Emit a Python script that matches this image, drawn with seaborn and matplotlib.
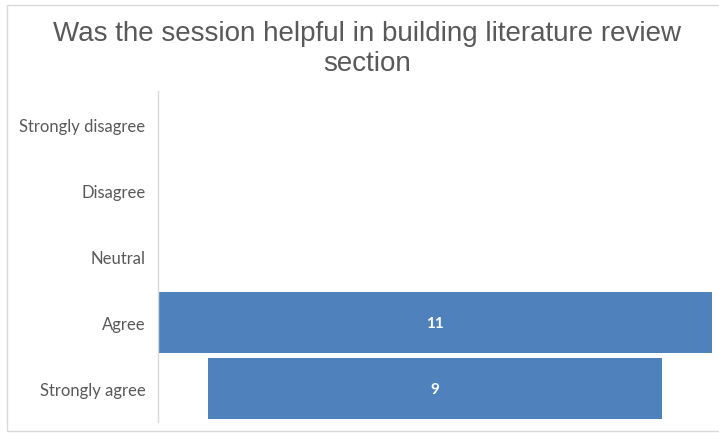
import numpy as np
import pandas as pd
import matplotlib
matplotlib.use("Agg")
import matplotlib.pyplot as plt
import seaborn as sns
from matplotlib.patches import Rectangle

# %% Data
categories = ['Strongly disagree', 'Disagree', 'Neutral', 'Agree', 'Strongly agree']
counts = [0, 0, 0, 11, 9]
title = 'Was the session helpful in building literature review\nsection'

df = pd.DataFrame({'Response': categories, 'Count': counts})
df['Half'] = df['Count'] / 2.0
df['NegHalf'] = -df['Half']

# %% Plot
sns.set_theme(style='white')
plt.rcParams['font.family'] = ['Liberation Sans', 'DejaVu Sans']

bar_color = '#4F81BD'
text_color = '#595959'

fig = plt.figure(figsize=(7.19, 4.35), dpi=100)
ax = fig.add_axes([158 / 719, 1 - 423 / 435, (712 - 158) / 719, (423 - 92) / 435])

# funnel style: each bar is centered on zero, drawn as two halves
sns.barplot(data=df, x='Half', y='Response', order=categories, color=bar_color,
            ax=ax, width=0.92, saturation=1, linewidth=0)
sns.barplot(data=df, x='NegHalf', y='Response', order=categories, color=bar_color,
            ax=ax, width=0.92, saturation=1, linewidth=0)

for i, v in enumerate(counts):
    if v > 0:
        ax.text(0, i, str(v), ha='center', va='center', color='white',
                fontsize=11, fontweight='bold', family=['Lato', 'DejaVu Sans'])

ax.set_xlim(-max(counts) / 2, max(counts) / 2)
ax.set_ylim(4.5, -0.5)
ax.set_xlabel('')
ax.set_ylabel('')
ax.set_xticks([])
ax.tick_params(axis='y', length=0, pad=9)
for lbl in ax.get_yticklabels():
    lbl.set_fontfamily(['Lato', 'DejaVu Sans'])
    lbl.set_fontsize(12)
    lbl.set_color(text_color)

for s in ['top', 'right', 'bottom']:
    ax.spines[s].set_visible(False)
ax.spines['left'].set_color('#D9D9D9')
ax.spines['left'].set_linewidth(1)

fig.text(367 / 719, 1 - 49 / 435, title, ha='center', va='center',
         fontsize=20, color=text_color, linespacing=1.2)

# light frame around the chart area
fig.patches.append(Rectangle((7 / 719, 1 - 432 / 435), 1.0, (432 - 6) / 435,
                             transform=fig.transFigure, fill=False,
                             edgecolor='#D9D9D9', linewidth=1))

fig.savefig('out.png', dpi=100)
